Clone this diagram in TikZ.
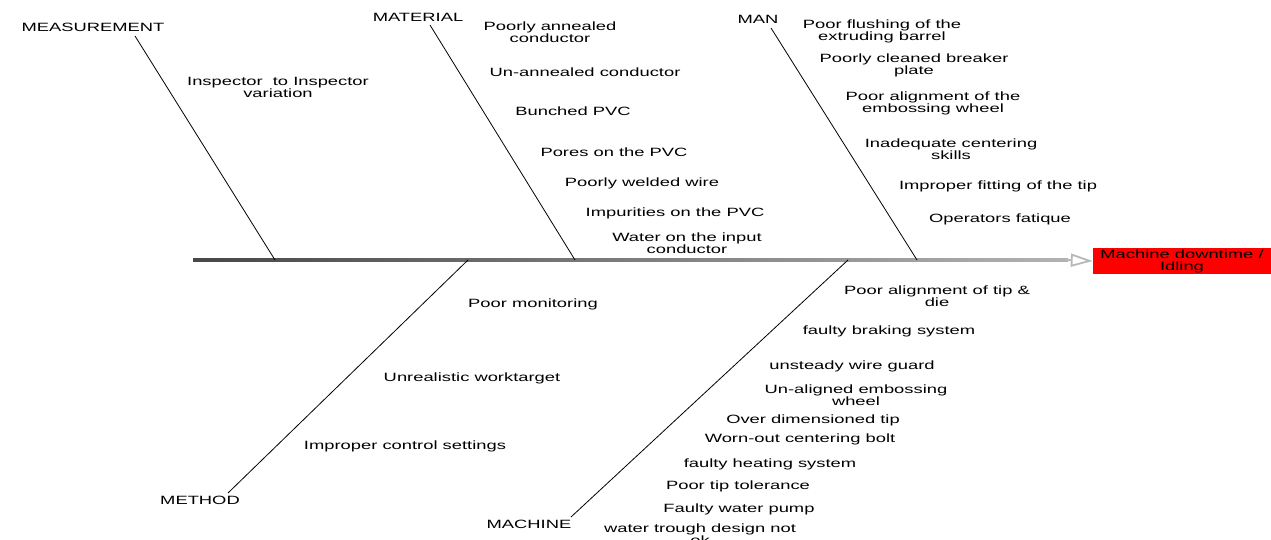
\documentclass[tikz,border=0pt]{standalone}
\usepackage{fontspec}
\setmainfont{Liberation Sans}[FakeStretch=1.53]
\usetikzlibrary{arrows.meta}
\begin{document}
\begin{tikzpicture}[x=1pt,y=-1pt,
  lbl/.style={inner sep=0pt, align=center, font=\fontsize{12}{12}\selectfont},
  bone/.style={draw=black, line width=0.8pt}]
\useasboundingbox (0,0) rectangle (1271,540);
% spine
\shade[left color=black!72, right color=black!30] (193,258.8) rectangle (1068,261.2);
\coordinate (spineend) at (1066,260);
\node[fill=red, minimum width=178pt, minimum height=26pt, inner sep=0pt, align=center,
      font=\fontsize{12}{12}\selectfont] (effect) at (1182,261) {Machine downtime /\\Idling};
\draw[draw=black!28, line width=1.8pt, -{Triangle[open,length=22pt,width=13pt]}] (spineend) -- (effect.west);
% categories
\node[lbl] (meas) at (93,27) {MEASUREMENT};
\node[lbl] (mat) at (418,17) {MATERIAL};
\node[lbl] (man) at (758,19) {MAN};
\node[lbl] (meth) at (200,500) {METHOD};
\node[lbl] (mach) at (529,524) {MACHINE};
% bone coordinates
\coordinate (measA) at (135,36);  \coordinate (measB) at (275,260);
\coordinate (matA) at (430,25);   \coordinate (matB) at (575,260);
\coordinate (manA) at (771,28);   \coordinate (manB) at (917,260);
\coordinate (methA) at (228,493); \coordinate (methB) at (468,260);
\coordinate (machA) at (571,517); \coordinate (machB) at (848,260);
\draw[bone] (measA) -- (measB);
\draw[bone] (matA) -- (matB);
\draw[bone] (manA) -- (manB);
\draw[bone] (methA) -- (methB);
\draw[bone] (machA) -- (machB);
% measurement causes
\node[lbl] (c1) at (278,87) {Inspector\ \ to Inspector\\variation};
% material causes
\node[lbl] (c2) at (550,32) {Poorly annealed\\conductor};
\node[lbl] (c3) at (585,72) {Un-annealed conductor};
\node[lbl] (c4) at (573,111) {Bunched PVC};
\node[lbl] (c5) at (614,152) {Pores on the PVC};
\node[lbl] (c6) at (642,183) {Poorly welded wire};
\node[lbl] (c7) at (675,213) {Impurities on the PVC};
\node[lbl] (c8) at (687,243) {Water on the input\\conductor};
% man causes
\node[lbl] (c9) at (882,31) {Poor flushing of the\\extruding barrel};
\node[lbl] (c10) at (914,65) {Poorly cleaned breaker\\plate};
\node[lbl] (c11) at (933,103) {Poor alignment of the\\embossing wheel};
\node[lbl] (c12) at (951,149) {Inadequate centering\\skills};
\node[lbl] (c13) at (998,186) {Improper fitting of the tip};
\node[lbl] (c14) at (1000,219) {Operators fatique};
% method causes
\node[lbl] (c15) at (533,304) {Poor monitoring};
\node[lbl] (c16) at (472,378) {Unrealistic worktarget};
\node[lbl] (c17) at (405,446) {Improper control settings};
% machine causes
\node[lbl] (c18) at (937,296) {Poor alignment of tip \&\\die};
\node[lbl] (c19) at (889,331) {faulty braking system};
\node[lbl] (c20) at (852,366) {unsteady wire guard};
\node[lbl] (c21) at (856,395) {Un-aligned embossing\\wheel};
\node[lbl] (c22) at (813,420) {Over dimensioned tip};
\node[lbl] (c23) at (800,439) {Worn-out centering bolt};
\node[lbl] (c24) at (770,464) {faulty heating system};
\node[lbl] (c25) at (738,486) {Poor tip tolerance};
\node[lbl] (c26) at (739,509) {Faulty water pump};
\node[lbl] (c27) at (700,534) {water trough design not\\ok};
\end{tikzpicture}
\end{document}
